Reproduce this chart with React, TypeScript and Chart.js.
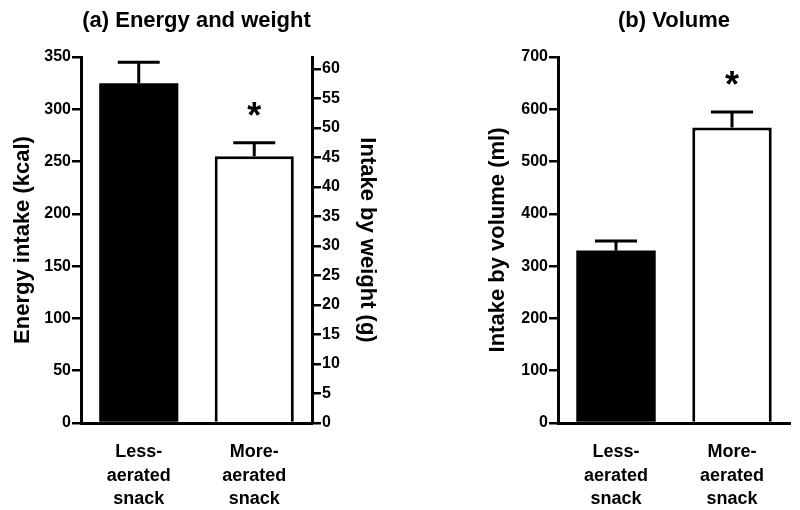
import React, { useEffect, useRef } from 'react';
import { Chart, registerables } from 'chart.js';

Chart.register(...registerables);

// ---------- data ----------
const categories = [
  ['Less-', 'aerated', 'snack'],
  ['More-', 'aerated', 'snack'],
];
const energyKcal = [325, 255];
const energyErrTop = [345, 268];
const volumeMl = [330, 565];
const volumeErrTop = [348, 595];
const significance = ['', '*'];
const barFill = ['#000000', '#ffffff'];
const barBorder = [0, 3];

const energyAxisMin = 0;
const energyAxisMax = 350;
const energyAxisStep = 50;
const weightAxisMin = 0;
const weightAxisMax = 62;
const weightAxisStep = 5;
const volumeAxisMin = 0;
const volumeAxisMax = 700;
const volumeAxisStep = 100;

const titleA = '(a) Energy and weight';
const titleB = '(b) Volume';
const energyLabel = 'Energy intake (kcal)';
const weightLabel = 'Intake by weight (g)';
const volumeLabel = 'Intake by volume (ml)';

const FONT = "'Liberation Sans', Arial, Helvetica, sans-serif";
Chart.defaults.font.family = FONT;
Chart.defaults.color = '#000';

function makeErrorPlugin(tops: number[], marks: string[]) {
  return {
    id: 'errorBars',
    afterDatasetsDraw(chart: any) {
      const { ctx } = chart;
      const meta = chart.getDatasetMeta(0);
      const yScale = chart.scales[meta.yAxisID];
      ctx.save();
      ctx.strokeStyle = '#000';
      ctx.lineWidth = 3;
      ctx.lineCap = 'butt';
      meta.data.forEach((el: any, i: number) => {
        const yTop = yScale.getPixelForValue(tops[i]);
        const half = el.width * 0.265;
        ctx.beginPath();
        ctx.moveTo(el.x, el.y);
        ctx.lineTo(el.x, yTop);
        ctx.moveTo(el.x - half, yTop);
        ctx.lineTo(el.x + half, yTop);
        ctx.stroke();
        const mark = marks[i];
        if (mark) {
          ctx.fillStyle = '#000';
          ctx.font = `bold 36px ${FONT}`;
          ctx.textAlign = 'center';
          ctx.textBaseline = 'alphabetic';
          ctx.fillText(mark, el.x, yTop - 15);
        }
      });
      ctx.restore();
    },
  };
}

const tickFont = { size: 16, weight: 'bold' as const };
const axisTitleFont = { size: 22, weight: 'bold' as const };

function yAxis(min: number, max: number, step: number, position: string, title: string, titlePad: number, width: number) {
  return {
    position,
    min,
    max,
    ticks: { stepSize: step, padding: 1, font: tickFont, color: '#000' },
    afterBuildTicks: (s: any) => {
      const list: any[] = [];
      for (let v = min; v <= max + 1e-9; v += step) list.push({ value: v });
      s.ticks = list;
    },
    grid: { drawOnChartArea: false, drawTicks: true, tickLength: 9, lineWidth: 2.5, color: '#000' },
    border: { display: true, color: '#000', width: 3 },
    title: { display: true, text: title, font: axisTitleFont, color: '#000', padding: { top: titlePad, bottom: 0 } },
    afterFit: (s: any) => {
      s.width = width;
    },
  };
}

const xAxis = {
  grid: { display: false },
  border: { display: true, color: '#000', width: 3 },
  ticks: { color: '#000', font: { size: 18, weight: 'bold' as const, lineHeight: 1.28 }, padding: 10, maxRotation: 0, autoSkip: false },
  afterFit: (s: any) => {
    s.height = 87;
  },
};

function titleOpts(text: string) {
  return {
    display: true,
    text,
    fullSize: false,
    color: '#000',
    font: { size: 22, weight: 'bold' as const },
    padding: { top: 8, bottom: 22.6 },
  };
}

function dataset(values: number[], axisId: string) {
  return {
    data: values,
    yAxisID: axisId,
    backgroundColor: barFill,
    borderColor: '#000',
    borderWidth: barBorder,
    borderSkipped: 'start' as const,
    barPercentage: 0.685,
    categoryPercentage: 1,
  };
}

export default function App() {
  const leftRef = useRef<HTMLCanvasElement>(null);
  const rightRef = useRef<HTMLCanvasElement>(null);

  useEffect(() => {
    const left = new Chart(leftRef.current!, {
      type: 'bar',
      data: { labels: categories as any, datasets: [dataset(energyKcal, 'y') as any] },
      options: {
        responsive: false,
        animation: false,
        layout: { padding: 0 },
        plugins: { legend: { display: false }, tooltip: { enabled: false }, title: titleOpts(titleA) as any },
        scales: {
          x: xAxis as any,
          y: yAxis(energyAxisMin, energyAxisMax, energyAxisStep, 'left', energyLabel, 10, 81) as any,
          y1: yAxis(weightAxisMin, weightAxisMax, weightAxisStep, 'right', weightLabel, 14.8, 83) as any,
        },
      },
      plugins: [makeErrorPlugin(energyErrTop, significance)],
    });
    const right = new Chart(rightRef.current!, {
      type: 'bar',
      data: { labels: categories as any, datasets: [dataset(volumeMl, 'y') as any] },
      options: {
        responsive: false,
        animation: false,
        layout: { padding: { left: 0, right: 10, top: 0, bottom: 0 } },
        plugins: { legend: { display: false }, tooltip: { enabled: false }, title: titleOpts(titleB) as any },
        scales: {
          x: xAxis as any,
          y: yAxis(volumeAxisMin, volumeAxisMax, volumeAxisStep, 'left', volumeLabel, 84.8, 158) as any,
        },
      },
      plugins: [makeErrorPlugin(volumeErrTop, significance)],
    });
    return () => {
      left.destroy();
      right.destroy();
    };
  }, []);

  return (
    <div style={{ position: 'absolute', left: 0, top: 0, width: 800, height: 510, background: '#fff' }}>
      <canvas ref={leftRef} width={395} height={510} style={{ position: 'absolute', left: 0, top: 0, display: 'block' }} />
      <canvas ref={rightRef} width={400} height={510} style={{ position: 'absolute', left: 400, top: 0, display: 'block' }} />
    </div>
  );
}
